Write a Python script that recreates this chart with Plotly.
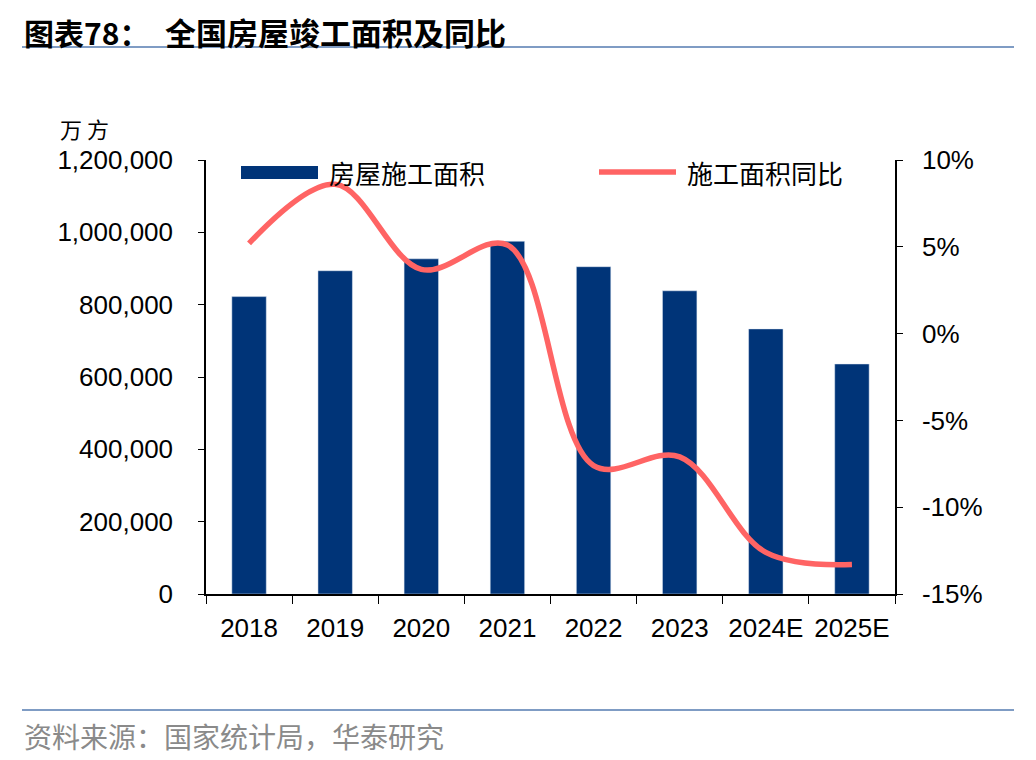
import plotly.graph_objects as go

categories = ["2018", "2019", "2020", "2021", "2022", "2023", "2024E", "2025E"]
area_values = [822300, 893821, 926759, 975387, 904999, 838364, 733000, 636000]
yoy_values = [0.052, 0.086, 0.037, 0.051, -0.076, -0.071, -0.126, -0.133]
left_ticks = [0, 200000, 400000, 600000, 800000, 1000000, 1200000]
right_ticks = [-0.15, -0.10, -0.05, 0.0, 0.05, 0.10]
right_labels = ["-15%", "-10%", "-5%", "0%", "5%", "10%"]

BAR_COLOR = "#003478"
LINE_COLOR = "#FF6464"
W, H = 1036, 760
OFF = 8  # page body margin offset
L, R, T, B = 206, 895, 160, 594

def px(x):
    return (x - L) / (R - L)

def py(y):
    return (B - y) / (B - T)

fig = go.Figure()
fig.add_trace(go.Bar(x=categories, y=area_values, marker_color=BAR_COLOR,
                     width=0.4, name="房屋施工面积", showlegend=False))
fig.add_trace(go.Scatter(x=categories, y=yoy_values, yaxis="y2", mode="lines",
                         line=dict(color=LINE_COLOR, width=5.5, shape="spline", smoothing=1.0),
                         name="施工面积同比", showlegend=False))

tick_font = dict(family="Liberation Sans, Arial", size=26, color="black")
cjk = "Noto Sans CJK SC"

fig.update_layout(
    width=W, height=H,
    margin=dict(l=L - OFF, r=W - R + OFF, t=T - OFF, b=H - B + OFF, pad=0),
    plot_bgcolor="white", paper_bgcolor="white",
    xaxis=dict(type="category", showline=True, linecolor="black", linewidth=1.5,
               ticks="outside", tickson="boundaries", ticklen=8, tickcolor="black",
               tickfont=tick_font, showgrid=False, ticklabelstandoff=10),
    yaxis=dict(range=[0, 1200000], tickvals=left_ticks, tickformat=",",
               showline=True, linecolor="black", linewidth=1.5,
               ticks="outside", ticklen=6, tickcolor="black",
               tickfont=tick_font, showgrid=False, zeroline=False, ticklabelstandoff=20),
    yaxis2=dict(range=[-0.15, 0.10], tickvals=right_ticks, ticktext=right_labels,
                overlaying="y", side="right",
                showline=True, linecolor="black", linewidth=1.5,
                ticks="outside", ticklen=6, tickcolor="black",
                tickfont=tick_font, showgrid=False, zeroline=False, ticklabelstandoff=14),
    showlegend=False,
)

shapes = [
    dict(type="line", xref="paper", yref="paper", x0=px(22), x1=px(1014), y0=py(47), y1=py(47),
         line=dict(color="#7F9CC4", width=2)),
    dict(type="line", xref="paper", yref="paper", x0=px(22), x1=px(1014), y0=py(710), y1=py(710),
         line=dict(color="#7F9CC4", width=2)),
    # legend swatches
    dict(type="rect", xref="paper", yref="paper", x0=px(241), x1=px(318), y0=py(179), y1=py(166),
         fillcolor=BAR_COLOR, line=dict(width=0)),
    dict(type="line", xref="paper", yref="paper", x0=px(599), x1=px(676), y0=py(172), y1=py(172),
         line=dict(color=LINE_COLOR, width=5.5)),
]
fig.update_layout(shapes=shapes)

annotations = [
    dict(text="<b>图表78：</b>", x=px(22), y=py(32), xanchor="left", yanchor="middle",
         font=dict(family=cjk, size=30, color="black")),
    dict(text="<b>全国房屋竣工面积及同比</b>", x=px(163), y=py(32), xanchor="left", yanchor="middle",
         font=dict(family=cjk, size=31, color="black")),
    dict(text="万 方", x=px(58), y=py(128), xanchor="left", yanchor="middle",
         font=dict(family=cjk, size=22, color="black")),
    dict(text="房屋施工面积", x=px(327), y=py(172), xanchor="left", yanchor="middle",
         font=dict(family=cjk, size=26, color="black")),
    dict(text="施工面积同比", x=px(685), y=py(172), xanchor="left", yanchor="middle",
         font=dict(family=cjk, size=26, color="black")),
    dict(text="资料来源：国家统计局，华泰研究", x=px(22), y=py(736), xanchor="left", yanchor="middle",
         font=dict(family=cjk, size=28, color="#8A8A8A")),
]
for a in annotations:
    a.update(xref="paper", yref="paper", showarrow=False)
fig.update_layout(annotations=annotations)

fig.write_html("out.html")
